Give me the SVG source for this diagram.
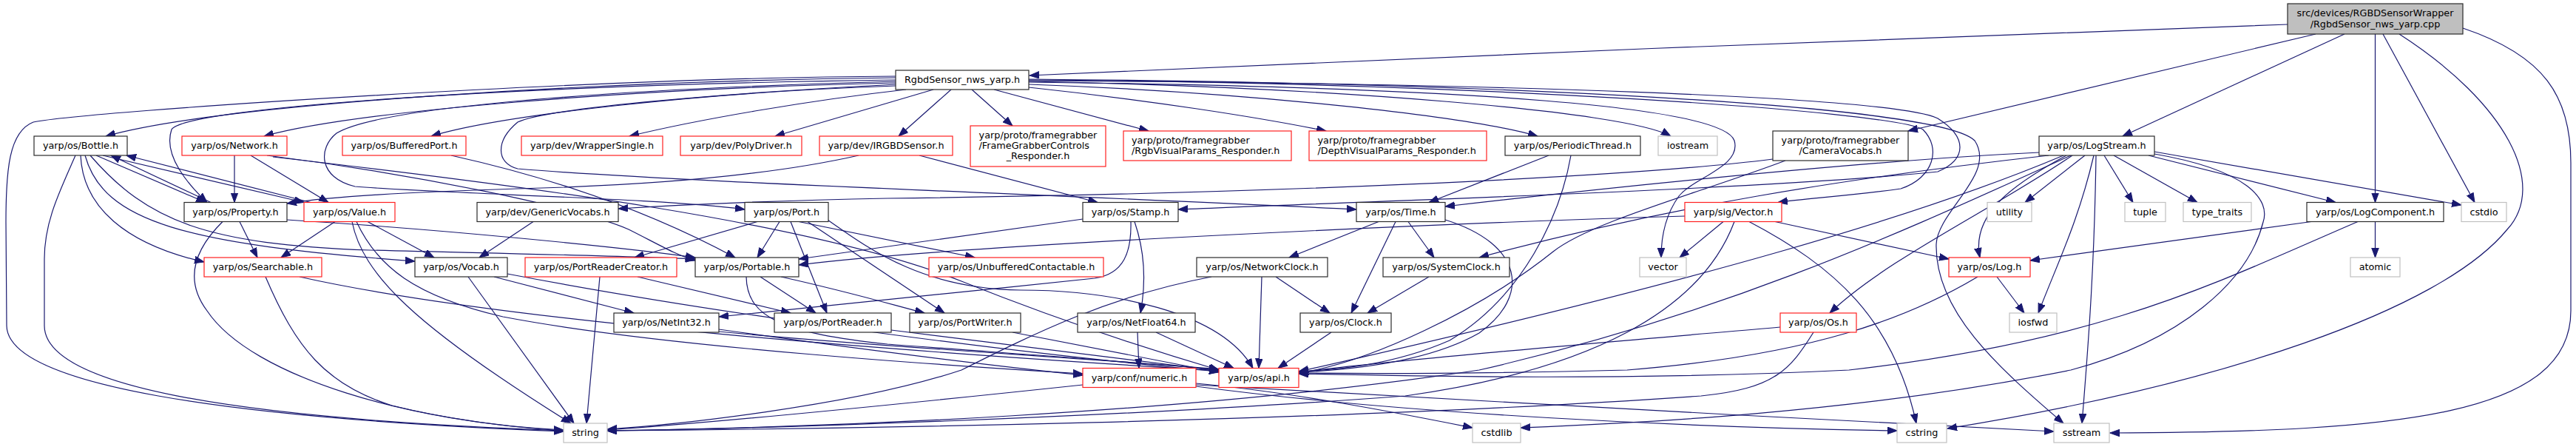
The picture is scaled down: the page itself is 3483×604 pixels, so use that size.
<svg xmlns="http://www.w3.org/2000/svg" width="3483" height="604" viewBox="0 0 3483 604">
<style>
.e{fill:none;stroke:#191970;stroke-width:1.2;marker-end:url(#ah)}
rect{fill:#fff;stroke-width:1.2}
.nb rect{stroke:#2b2b2b}
.nr rect{stroke:#ff2020}
.ng rect{stroke:#c0c0c0}
.root rect{fill:#bfbfbf;stroke:#2b2b2b}
text{font-family:"DejaVu Sans","Liberation Sans",sans-serif;font-size:12.8px;fill:#000;text-anchor:middle}
text.l{text-anchor:start}
</style>
<defs>
<marker id="ah" markerUnits="userSpaceOnUse" markerWidth="14" markerHeight="11" refX="13" refY="5" orient="auto">
<path d="M0,0.2 L13,5 L0,9.8 z" fill="#191970" stroke="#191970" stroke-width="1"/>
</marker>
</defs>
<rect x="0" y="0" width="3483" height="604" style="fill:#fff;stroke:none"/>
<g id="connectors">
<path class="e" d="M3093,33 C2700,46 1800,82 1392,102"/>
<path class="e" d="M3131,46 L2580,177"/>
<path class="e" d="M3170,46 L2870,184"/>
<path class="e" d="M3211.5,46 L3211.5,273.5"/>
<path class="e" d="M3222,46 L3346,273.5"/>
<path class="e" d="M3244,46 C3390,140 3445,250 3390,310 C3300,420 3000,520 2633,579"/>
<path class="e" d="M3330,38 C3440,75 3476,130 3476,220 L3476,420 C3476,560 3250,584 2853,585"/>
<path class="e" d="M1211,105 C800,110 300,140 143,184"/>
<path class="e" d="M1211,112 C850,120 480,150 357,184"/>
<path class="e" d="M1211,116 C950,125 680,155 583,184"/>
<path class="e" d="M1225,121 C1100,135 950,160 851,184"/>
<path class="e" d="M1262,121 L1048,184"/>
<path class="e" d="M1286,121 L1215,184"/>
<path class="e" d="M1314,121 L1369,170"/>
<path class="e" d="M1344,121 L1553,177"/>
<path class="e" d="M1391,118 C1550,135 1700,158 1793,177"/>
<path class="e" d="M1391,114 C1700,125 1990,158 2079,184"/>
<path class="e" d="M1391,110 C1800,118 2200,150 2259,184"/>
<path class="e" d="M1211,108 C700,115 250,145 232,175 C220,210 255,250 280,273.5"/>
<path class="e" d="M1211,103 C800,105 120,150 45,165 C12,178 8,230 8,300 L9,440 C10,520 300,565 762,583"/>
<path class="e" d="M1391,107 C2000,112 2620,140 2670,190 C2700,235 2620,285 2618,330 C2616,420 2700,495 2790,572"/>
<path class="e" d="M1211,110 C900,118 520,140 455,180 C430,200 430,240 480,252 C600,262 900,268 1007,283"/>
<path class="e" d="M1211,114 C1000,125 740,145 700,165 C670,190 670,220 700,228 C900,245 1400,262 1834,283"/>
<path class="e" d="M1391,109 C2000,112 2560,130 2620,160 C2660,185 2660,215 2620,232 C2400,255 1900,270 1593,283"/>
<path class="e" d="M1391,108 C2000,112 2560,150 2600,175 C2625,200 2615,240 2570,255 C2500,265 2440,268 2404,273.5"/>
<path class="e" d="M1391,111 C2000,118 2330,145 2345,190 C2355,225 2290,240 2270,265 C2252,290 2246,320 2246,348"/>
<path class="e" d="M130,210 L278,273.5"/>
<path class="e" d="M139,210 L411,273.5"/>
<path class="e" d="M109,210 C112,280 170,330 276,354"/>
<path class="e" d="M115,210 C140,300 250,330 561,353"/>
<path class="e" d="M122,210 C200,300 280,330 500,338 C700,343 850,346 940,350"/>
<path class="e" d="M102,210 C80,260 60,300 60,350 L60,440 C60,520 300,565 762,582"/>
<path class="e" d="M285,273.5 L150,210"/>
<path class="e" d="M324,299.5 L348,348"/>
<path class="e" d="M301,299.5 C260,340 250,380 280,420 C340,510 560,572 762,581"/>
<path class="e" d="M388,297 C600,310 850,335 940,348"/>
<path class="e" d="M420,273.5 L171,210"/>
<path class="e" d="M453,299.5 L380,348"/>
<path class="e" d="M497,299.5 L587,348"/>
<path class="e" d="M476,299.5 C490,370 560,440 772,572"/>
<path class="e" d="M482,299.5 C510,360 560,400 680,428 C900,470 1300,495 1464,505"/>
<path class="e" d="M317,210 L317,273.5"/>
<path class="e" d="M339,210 L444,273.5"/>
<path class="e" d="M361,210 C560,235 780,280 850,310 C890,330 915,345 940,352"/>
<path class="e" d="M369,212 C700,250 1100,300 1300,380 C1450,440 1580,480 1648,500"/>
<path class="e" d="M359,374 C400,470 440,520 530,548 C620,570 700,578 762,582"/>
<path class="e" d="M405,374 C700,440 1300,480 1648,501"/>
<path class="e" d="M633,374 L776,572"/>
<path class="e" d="M668,374 L857,423"/>
<path class="e" d="M686,370 C1000,430 1400,480 1648,502"/>
<path class="e" d="M721,299.5 L648,348"/>
<path class="e" d="M2397,215 C2200,240 1700,262 1200,268 C1000,272 900,278 836,282"/>
<path class="e" d="M2414,217 C2300,260 2150,300 2100,340 C2000,420 1850,490 1756,504"/>
<path class="e" d="M610,210 C700,230 850,270 994,348"/>
<path class="e" d="M1161,210 C1050,235 900,250 700,255 C550,260 450,265 388,275"/>
<path class="e" d="M1243,210 L1484,273.5"/>
<path class="e" d="M1024,299.5 L858,348"/>
<path class="e" d="M1054,299.5 L1024,348"/>
<path class="e" d="M1069,299.5 L1118,423"/>
<path class="e" d="M1080,299.5 L1318,348"/>
<path class="e" d="M1092,299.5 L1277,423"/>
<path class="e" d="M1119,297 C1180,340 1250,390 1380,392 C1500,392 1650,420 1694,497.5"/>
<path class="e" d="M862,374 L1069,423"/>
<path class="e" d="M811,374 L793,572"/>
<path class="e" d="M1028,374 L1103,423"/>
<path class="e" d="M1056,374 C1150,395 1200,410 1250,423"/>
<path class="e" d="M1009,374 C1010,430 1060,450 1200,465 C1400,480 1550,490 1648,500"/>
<path class="e" d="M1205,446 L1648,501"/>
<path class="e" d="M1369,449 L1648,503"/>
<path class="e" d="M972,445 C1150,470 1350,495 1464,507"/>
<path class="e" d="M972,448 C1200,470 1450,482 1648,499"/>
<path class="e" d="M1464,296 C1300,320 1150,340 1080,350"/>
<path class="e" d="M1529,299.5 C1530,340 1520,370 1480,376 C1300,395 1100,415 972,428"/>
<path class="e" d="M1534,299.5 C1548,340 1550,380 1542,423"/>
<path class="e" d="M1538,449 L1540,497.5"/>
<path class="e" d="M1563,449 L1668,497.5"/>
<path class="e" d="M2094,210 L1932,273.5"/>
<path class="e" d="M2124,210 C2110,290 2060,400 1960,460 C1880,495 1800,500 1756,502"/>
<path class="e" d="M1864,299.5 L1743,348"/>
<path class="e" d="M1887,299.5 L1827,423"/>
<path class="e" d="M1904,299.5 L1939,348"/>
<path class="e" d="M1954,297 C2060,330 2070,400 2000,450 C1930,490 1820,500 1756,503"/>
<path class="e" d="M1725,374 L1798,423"/>
<path class="e" d="M1706,374 L1702,497.5"/>
<path class="e" d="M1638,374 C1500,400 1400,450 1300,500 C1150,550 900,575 821,580"/>
<path class="e" d="M1932,374 L1849,423"/>
<path class="e" d="M1800,449 L1728,497.5"/>
<path class="e" d="M2330,299.5 L2271,348"/>
<path class="e" d="M2365,299.5 C2480,360 2560,430 2591,572"/>
<path class="e" d="M2400,299.5 L2635,350"/>
<path class="e" d="M2278,292 C2000,300 1300,330 1080,358"/>
<path class="e" d="M2345,299.5 C2300,420 2150,500 1900,535 C1500,565 1000,580 821,582"/>
<path class="e" d="M2819,210 L2738,273.5"/>
<path class="e" d="M2845,210 L2884,273.5"/>
<path class="e" d="M2858,210 L2971,273.5"/>
<path class="e" d="M2905,210 L3158,273.5"/>
<path class="e" d="M2913,205 L3328,277"/>
<path class="e" d="M2794,210 C2720,250 2665,290 2677,348"/>
<path class="e" d="M2831,210 C2810,300 2780,360 2756,423"/>
<path class="e" d="M2834,210 C2832,350 2825,450 2815,572"/>
<path class="e" d="M2802,210 C2700,280 2550,350 2474,423"/>
<path class="e" d="M2757,206 C2500,218 2100,262 1954,279"/>
<path class="e" d="M2770,210 C2500,240 2250,280 2000,348"/>
<path class="e" d="M2790,210 C2600,290 2300,380 1756,502"/>
<path class="e" d="M2800,210 C2600,300 2350,420 2000,500 C1600,560 1100,578 821,582"/>
<path class="e" d="M2913,208 C3040,230 3070,270 3060,300 C3040,380 2950,460 2800,500 C2500,560 2200,572 2056,578"/>
<path class="e" d="M3125,299.5 L2745,352"/>
<path class="e" d="M3188,299.5 C3000,380 2850,460 2500,500 C2200,515 1900,508 1756,505"/>
<path class="e" d="M3211.5,299.5 L3211.5,348"/>
<path class="e" d="M2700,374 L2737,423"/>
<path class="e" d="M2674,374 C2580,430 2450,480 2200,500 C2000,505 1850,505 1756,504"/>
<path class="e" d="M2452,449 C2420,500 2400,525 2300,535 C1800,570 1100,580 821,582"/>
<path class="e" d="M2407,442 C2200,460 1900,485 1756,503"/>
<path class="e" d="M1464,520 C1200,548 950,572 821,581"/>
<path class="e" d="M1617,518 C1750,530 1900,560 1991,578"/>
<path class="e" d="M1617,522 C1900,560 2300,578 2565,582"/>
<path class="e" d="M1617,520 C1900,535 2400,565 2777,583"/>
</g>
<g id="n_cpp" class="root"><rect x="3093" y="5" width="237" height="41"/><text x="3211.5" y="22">src/devices/RGBDSensorWrapper</text><text x="3211.5" y="36.5">/RgbdSensor_nws_yarp.cpp</text></g>
<g id="n_rgbdh" class="nb"><rect x="1211" y="95" width="180" height="26"/><text x="1301" y="112.3">RgbdSensor_nws_yarp.h</text></g>
<g id="n_bottle" class="nb"><rect x="46" y="184" width="126" height="26"/><text x="109" y="201.3">yarp/os/Bottle.h</text></g>
<g id="n_network" class="nr"><rect x="246" y="184" width="142" height="26"/><text x="317" y="201.3">yarp/os/Network.h</text></g>
<g id="n_bufferedport" class="nr"><rect x="463" y="184" width="167" height="26"/><text x="546.5" y="201.3">yarp/os/BufferedPort.h</text></g>
<g id="n_wrappersingle" class="nr"><rect x="705" y="184" width="191" height="26"/><text x="800.5" y="201.3">yarp/dev/WrapperSingle.h</text></g>
<g id="n_polydriver" class="nr"><rect x="920" y="184" width="164" height="26"/><text x="1002" y="201.3">yarp/dev/PolyDriver.h</text></g>
<g id="n_irgbd" class="nr"><rect x="1108" y="184" width="180" height="26"/><text x="1198" y="201.3">yarp/dev/IRGBDSensor.h</text></g>
<g id="n_fgc" class="nr"><rect x="1312" y="170" width="183" height="55"/><text x="1403.5" y="186.7">yarp/proto/framegrabber</text><text class="l" x="1323.5" y="201">/FrameGrabberControls</text><text x="1403.5" y="215.3">_Responder.h</text></g>
<g id="n_rgbvis" class="nr"><rect x="1519" y="177" width="227" height="40"/><text class="l" x="1530" y="193.7">yarp/proto/framegrabber</text><text class="l" x="1530" y="208">/RgbVisualParams_Responder.h</text></g>
<g id="n_depthvis" class="nr"><rect x="1770" y="177" width="240" height="40"/><text class="l" x="1781.5" y="193.7">yarp/proto/framegrabber</text><text class="l" x="1781.5" y="208">/DepthVisualParams_Responder.h</text></g>
<g id="n_periodic" class="nb"><rect x="2035" y="184" width="183" height="26"/><text x="2126.5" y="201.3">yarp/os/PeriodicThread.h</text></g>
<g id="n_iostream" class="ng"><rect x="2242" y="184" width="80" height="26"/><text x="2282" y="201.3">iostream</text></g>
<g id="n_cameravocabs" class="nb"><rect x="2397" y="177" width="183" height="40"/><text x="2488.5" y="193.7">yarp/proto/framegrabber</text><text x="2488.5" y="208">/CameraVocabs.h</text></g>
<g id="n_logstream" class="nb"><rect x="2757" y="184" width="156" height="26"/><text x="2835" y="201.3">yarp/os/LogStream.h</text></g>
<g id="n_property" class="nb"><rect x="249" y="273.5" width="139" height="26"/><text x="318.5" y="290.8">yarp/os/Property.h</text></g>
<g id="n_value" class="nr"><rect x="411" y="273.5" width="123" height="26"/><text x="472.5" y="290.8">yarp/os/Value.h</text></g>
<g id="n_genericvocabs" class="nb"><rect x="645" y="273.5" width="191" height="26"/><text x="740.5" y="290.8">yarp/dev/GenericVocabs.h</text></g>
<g id="n_port" class="nb"><rect x="1007" y="273.5" width="113" height="26"/><text x="1063.5" y="290.8">yarp/os/Port.h</text></g>
<g id="n_stamp" class="nb"><rect x="1464" y="273.5" width="129" height="26"/><text x="1528.5" y="290.8">yarp/os/Stamp.h</text></g>
<g id="n_time" class="nb"><rect x="1834" y="273.5" width="120" height="26"/><text x="1894" y="290.8">yarp/os/Time.h</text></g>
<g id="n_sigvector" class="nr"><rect x="2278" y="273.5" width="131" height="26"/><text x="2343.5" y="290.8">yarp/sig/Vector.h</text></g>
<g id="n_utility" class="ng"><rect x="2687" y="273.5" width="60" height="26"/><text x="2717" y="290.8">utility</text></g>
<g id="n_tuple" class="ng"><rect x="2873" y="273.5" width="55" height="26"/><text x="2900.5" y="290.8">tuple</text></g>
<g id="n_typetraits" class="ng"><rect x="2952" y="273.5" width="92" height="26"/><text x="2998" y="290.8">type_traits</text></g>
<g id="n_logcomponent" class="nb"><rect x="3119" y="273.5" width="185" height="26"/><text x="3211.5" y="290.8">yarp/os/LogComponent.h</text></g>
<g id="n_cstdio" class="ng"><rect x="3328" y="273.5" width="61" height="26"/><text x="3358.5" y="290.8">cstdio</text></g>
<g id="n_searchable" class="nr"><rect x="276" y="348" width="159" height="26"/><text x="355.5" y="365.3">yarp/os/Searchable.h</text></g>
<g id="n_vocab" class="nb"><rect x="561" y="348" width="125" height="26"/><text x="623.5" y="365.3">yarp/os/Vocab.h</text></g>
<g id="n_prc" class="nr"><rect x="710" y="348" width="205" height="26"/><text x="812.5" y="365.3">yarp/os/PortReaderCreator.h</text></g>
<g id="n_portable" class="nb"><rect x="940" y="348" width="140" height="26"/><text x="1010" y="365.3">yarp/os/Portable.h</text></g>
<g id="n_unbuffered" class="nr"><rect x="1256" y="348" width="236" height="26"/><text x="1374" y="365.3">yarp/os/UnbufferedContactable.h</text></g>
<g id="n_networkclock" class="nb"><rect x="1618" y="348" width="177" height="26"/><text x="1706.5" y="365.3">yarp/os/NetworkClock.h</text></g>
<g id="n_systemclock" class="nb"><rect x="1870" y="348" width="171" height="26"/><text x="1955.5" y="365.3">yarp/os/SystemClock.h</text></g>
<g id="n_vector" class="ng"><rect x="2217" y="348" width="63" height="26"/><text x="2248.5" y="365.3">vector</text></g>
<g id="n_log" class="nr"><rect x="2635" y="348" width="110" height="26"/><text x="2690" y="365.3">yarp/os/Log.h</text></g>
<g id="n_atomic" class="ng"><rect x="3178" y="348" width="67" height="26"/><text x="3211.5" y="365.3">atomic</text></g>
<g id="n_netint32" class="nb"><rect x="830" y="423" width="142" height="26"/><text x="901" y="440.3">yarp/os/NetInt32.h</text></g>
<g id="n_portreader" class="nb"><rect x="1047" y="423" width="158" height="26"/><text x="1126" y="440.3">yarp/os/PortReader.h</text></g>
<g id="n_portwriter" class="nb"><rect x="1230" y="423" width="150" height="26"/><text x="1305" y="440.3">yarp/os/PortWriter.h</text></g>
<g id="n_netfloat64" class="nb"><rect x="1457" y="423" width="159" height="26"/><text x="1536.5" y="440.3">yarp/os/NetFloat64.h</text></g>
<g id="n_clock" class="nb"><rect x="1758" y="423" width="123" height="26"/><text x="1819.5" y="440.3">yarp/os/Clock.h</text></g>
<g id="n_os" class="nr"><rect x="2407" y="423" width="103" height="26"/><text x="2458.5" y="440.3">yarp/os/Os.h</text></g>
<g id="n_iosfwd" class="ng"><rect x="2717" y="423" width="64" height="26"/><text x="2749" y="440.3">iosfwd</text></g>
<g id="n_numeric" class="nr"><rect x="1464" y="497.5" width="153" height="26"/><text x="1540.5" y="514.8">yarp/conf/numeric.h</text></g>
<g id="n_api" class="nr"><rect x="1648" y="497.5" width="108" height="26"/><text x="1702" y="514.8">yarp/os/api.h</text></g>
<g id="n_string" class="ng"><rect x="762" y="572" width="59" height="26"/><text x="791.5" y="589.3">string</text></g>
<g id="n_cstdlib" class="ng"><rect x="1991" y="572" width="65" height="26"/><text x="2023.5" y="589.3">cstdlib</text></g>
<g id="n_cstring" class="ng"><rect x="2565" y="572" width="67" height="26"/><text x="2598.5" y="589.3">cstring</text></g>
<g id="n_sstream" class="ng"><rect x="2777" y="572" width="75" height="26"/><text x="2814.5" y="589.3">sstream</text></g>
</svg>
